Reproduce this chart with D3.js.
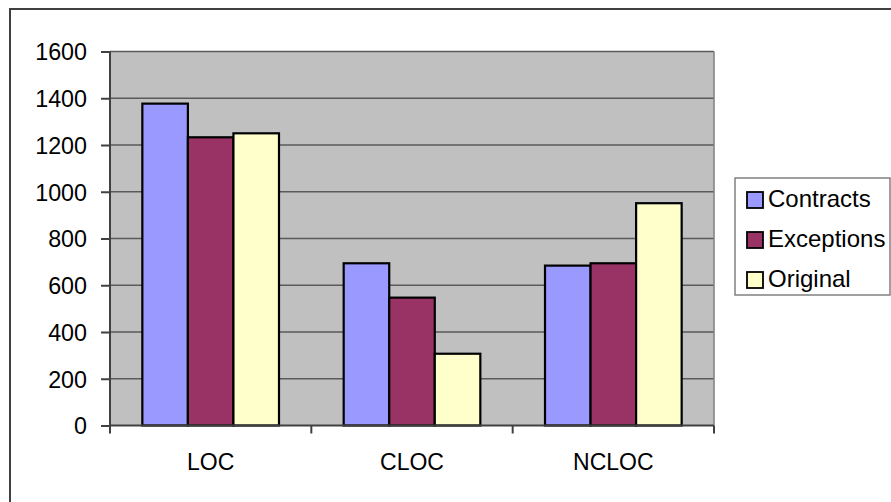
<!DOCTYPE html>
<html>
<head>
<meta charset="utf-8">
<script src="https://cdn.jsdelivr.net/npm/d3@7"></script>
<style>
  html, body { margin: 0; padding: 0; background: #fff; }
  svg { display: block; font-family: "Liberation Sans", Arial, sans-serif; }
</style>
</head>
<body>
<svg id="chart" width="891" height="502"></svg>
<script>
// Lines of code per metric, for each variant of the code base
const categories = ["LOC", "CLOC", "NCLOC"];
const seriesNames = ["Contracts", "Exceptions", "Original"];
const contracts = [1377, 694, 684];
const exceptions = [1233, 547, 694];
const original = [1250, 307, 951];
const yTicks = [0, 200, 400, 600, 800, 1000, 1200, 1400, 1600];
const colors = ["#9999ff", "#993366", "#ffffcc"];

const seriesValues = [contracts, exceptions, original];

const svg = d3.select("#chart");
const plot = { left: 110, right: 714, top: 51.5, bottom: 425.5 };
const labelFont = "Liberation Sans, Arial, sans-serif";

// outer chart frame
svg.append("rect")
  .attr("x", 10).attr("y", 9)
  .attr("width", 900).attr("height", 510)
  .attr("fill", "#fff")
  .attr("stroke", "#404040").attr("stroke-width", 2);

const x0 = d3.scaleBand().domain(categories).range([plot.left, plot.right]).paddingInner(0).paddingOuter(0);
const x1 = d3.scaleBand().domain(seriesNames).range([0, x0.bandwidth()]).paddingInner(0).paddingOuter(0.71);
const y = d3.scaleLinear().domain([0, 1600]).range([plot.bottom, plot.top]);

// plot background
svg.append("rect")
  .attr("x", plot.left).attr("y", plot.top)
  .attr("width", plot.right - plot.left).attr("height", plot.bottom - plot.top)
  .attr("fill", "#c0c0c0");

// horizontal gridlines
svg.append("g").selectAll("line").data(yTicks.filter(d => d > 0)).join("line")
  .attr("x1", plot.left).attr("x2", plot.right)
  .attr("y1", d => y(d)).attr("y2", d => y(d))
  .attr("stroke", "#5a5a5a").attr("stroke-width", 1.6);

// right edge of plot area
svg.append("line")
  .attr("x1", plot.right).attr("x2", plot.right)
  .attr("y1", plot.top).attr("y2", plot.bottom)
  .attr("stroke", "#808080").attr("stroke-width", 1.5);

// bars
const groups = svg.append("g").selectAll("g").data(categories).join("g")
  .attr("transform", d => `translate(${x0(d)},0)`);
groups.selectAll("rect")
  .data((c, i) => seriesNames.map((s, j) => ({ s, j, v: seriesValues[j][i] })))
  .join("rect")
  .attr("x", d => x1(d.s))
  .attr("y", d => y(d.v))
  .attr("width", x1.bandwidth())
  .attr("height", d => y(0) - y(d.v))
  .attr("fill", d => colors[d.j])
  .attr("stroke", "#000").attr("stroke-width", 2.2);

// y axis
const yAxis = svg.append("g")
  .attr("transform", `translate(${plot.left},0)`)
  .call(d3.axisLeft(y).tickValues(yTicks).tickSize(9).tickPadding(14).tickFormat(d3.format("d")));
yAxis.attr("font-size", null).attr("font-family", null);
yAxis.select(".domain").attr("stroke", "#404040").attr("stroke-width", 2).attr("d", `M0,${plot.top}V${plot.bottom}`);
yAxis.selectAll(".tick line").attr("stroke", "#404040").attr("stroke-width", 2);
yAxis.selectAll(".tick text")
  .attr("fill", "#000").style("font-size", "23.3px").style("font-family", labelFont)
  .attr("dy", "0.36em");

// x axis
const xAxis = svg.append("g")
  .attr("transform", `translate(0,${plot.bottom})`)
  .call(d3.axisBottom(x0).tickSize(0).tickPadding(28));
xAxis.attr("font-size", null).attr("font-family", null);
xAxis.select(".domain").attr("stroke", "#404040").attr("stroke-width", 2).attr("d", `M${plot.left},0H${plot.right}`);
xAxis.selectAll(".tick text")
  .attr("fill", "#000").style("font-size", "23px").style("font-family", labelFont);
// category separators
xAxis.append("g").selectAll("line")
  .data([plot.left, ...categories.map(c => x0(c) + x0.bandwidth())])
  .join("line")
  .attr("x1", d => d).attr("x2", d => d)
  .attr("y1", 0).attr("y2", 8)
  .attr("stroke", "#404040").attr("stroke-width", 2);

// legend
const legend = svg.append("g").attr("transform", "translate(735,178)");
legend.append("rect")
  .attr("x", 0).attr("y", 0).attr("width", 155).attr("height", 117)
  .attr("fill", "#fff").attr("stroke", "#808080").attr("stroke-width", 1.5);
const items = legend.selectAll("g.item").data(seriesNames).join("g")
  .attr("class", "item")
  .attr("transform", (d, i) => `translate(12,${22 + i * 40})`);
items.append("rect")
  .attr("x", 0).attr("y", -8).attr("width", 16).attr("height", 16)
  .attr("fill", (d, i) => colors[i])
  .attr("stroke", "#000").attr("stroke-width", 1.8);
items.append("text")
  .attr("x", 21).attr("y", -2).attr("dy", "0.36em")
  .style("font-size", "24px").style("font-family", labelFont)
  .attr("fill", "#000")
  .text(d => d);
</script>
</body>
</html>
